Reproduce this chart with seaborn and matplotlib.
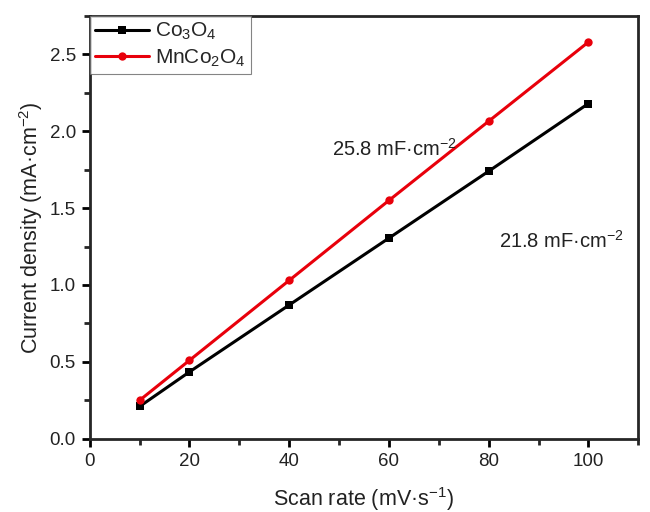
import numpy as np
import pandas as pd
import seaborn as sns
import matplotlib.pyplot as plt
from matplotlib.ticker import MultipleLocator

scan_rate = [10, 20, 40, 60, 80, 100]
co3o4 = [0.21, 0.435, 0.87, 1.305, 1.74, 2.18]
mnco2o4 = [0.25, 0.51, 1.03, 1.55, 2.065, 2.58]

df = pd.DataFrame({
    "scan": scan_rate * 2,
    "current": co3o4 + mnco2o4,
    "sample": ["$\\mathregular{Co_3O_4}$"] * 6 + ["$\\mathregular{MnCo_2O_4}$"] * 6,
})

sns.set_style("ticks")
plt.rcParams["font.family"] = ["Liberation Sans", "DejaVu Sans"]
plt.rcParams["mathtext.fontset"] = "custom"
plt.rcParams["mathtext.rm"] = "Liberation Sans"

fig, ax = plt.subplots(figsize=(6.5, 5.12), dpi=100)
fig.subplots_adjust(left=0.138, right=0.982, top=0.969, bottom=0.143)

sns.lineplot(data=df, x="scan", y="current", hue="sample", style="sample",
             palette=["black", "#e8000b"], markers=["s", "o"], dashes=False,
             markersize=6, linewidth=2.2, markeredgewidth=0, ax=ax)

ax.set_xlim(0, 110)
ax.set_ylim(0, 2.75)
ax.xaxis.set_major_locator(MultipleLocator(20))
ax.xaxis.set_minor_locator(MultipleLocator(10))
ax.yaxis.set_major_locator(MultipleLocator(0.5))
ax.yaxis.set_minor_locator(MultipleLocator(0.25))
ax.tick_params(which="major", direction="out", length=6, width=2, labelsize=13.5,
               colors="black", pad=4)
ax.tick_params(which="minor", direction="out", length=4, width=2)
for lab in ax.get_xticklabels() + ax.get_yticklabels():
    lab.set_color("#222222")
for s in ax.spines.values():
    s.set_linewidth(2)
    s.set_visible(True)

ax.set_xlabel("Scan rate (mV·s$^{-1}$)", fontsize=15.5, labelpad=11, color="#222222")
ax.set_ylabel("Current density (mA·cm$^{-2}$)", fontsize=15.5, labelpad=3, color="#222222")

ax.text(48.5, 1.84, "25.8 mF·cm$^{-2}$", fontsize=14.5, color="#222222")
ax.text(82, 1.24, "21.8 mF·cm$^{-2}$", fontsize=14.5, color="#222222")

leg = ax.legend(loc="upper left", fontsize=15, frameon=True, fancybox=False,
                borderaxespad=0, handlelength=2.6, labelspacing=0.25,
                borderpad=0.25, handletextpad=0.3)
leg.get_frame().set_edgecolor("#666666")
leg.get_frame().set_linewidth(0.8)

fig.savefig("out.png", dpi=100)
